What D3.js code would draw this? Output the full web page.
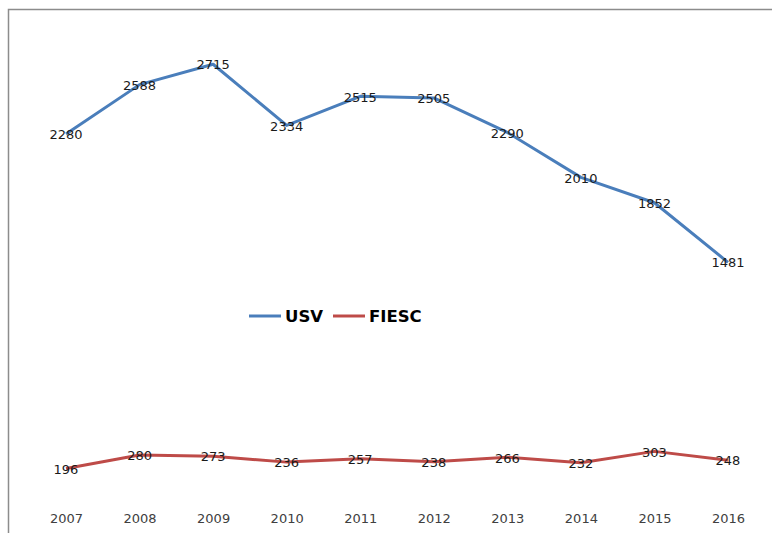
<!DOCTYPE html>
<html>
<head>
<meta charset="utf-8">
<script src="https://cdnjs.cloudflare.com/ajax/libs/d3/7.8.5/d3.min.js"></script>
<style>
  body { margin: 0; background: #fff; }
</style>
</head>
<body>
<svg id="chart" width="772" height="533"></svg>
<script>
var years = ["2007", "2008", "2009", "2010", "2011", "2012", "2013", "2014", "2015", "2016"];
var usv = [2280, 2588, 2715, 2334, 2515, 2505, 2290, 2010, 1852, 1481];
var fiesc = [196, 280, 273, 236, 257, 238, 266, 232, 303, 248];

var seriesNames = ["USV", "FIESC"];
var seriesColors = ["#4a7ebb", "#be4b48"];

var svg = d3.select("#chart");

// chart frame, runs off the right and bottom edge like the original
svg.append("rect")
    .attr("x", 8.5)
    .attr("y", 9.5)
    .attr("width", 800)
    .attr("height", 600)
    .attr("fill", "none")
    .attr("stroke", "#8c8c8c")
    .attr("stroke-width", 1.5);

var x = d3.scalePoint()
    .domain(years)
    .range([66, 728]);

var y = d3.scaleLinear()
    .domain([0, 3000])
    .range([500, 18.5]);

var xAxis = svg.append("g")
    .attr("transform", "translate(0,518)")
    .call(d3.axisBottom(x).tickSize(0).tickPadding(0));
xAxis.select(".domain").remove();
xAxis.selectAll("text")
    .attr("dy", "0.35em")
    .attr("fill", "#404040")
    .style("font-family", "DejaVu Sans")
    .style("font-size", "13px");

var line = d3.line()
    .x(function(d, i) { return x(years[i]); })
    .y(function(d) { return y(d); });

[usv, fiesc].forEach(function(values, s) {
    svg.append("path")
        .datum(values)
        .attr("d", line)
        .attr("fill", "none")
        .attr("stroke", seriesColors[s])
        .attr("stroke-width", 3)
        .attr("stroke-linejoin", "round");

    svg.append("g").selectAll("text")
        .data(values)
        .enter().append("text")
        .attr("x", function(d, i) { return x(years[i]); })
        .attr("y", function(d) { return y(d); })
        .attr("dy", "0.4em")
        .attr("text-anchor", "middle")
        .attr("fill", "#1a1a1a")
        .style("font-family", "DejaVu Sans")
        .style("font-size", "13px")
        .text(function(d) { return d; });
});

// legend
var legendX = [249, 333];
var legend = svg.append("g");
seriesNames.forEach(function(name, s) {
    legend.append("line")
        .attr("x1", legendX[s])
        .attr("x2", legendX[s] + 32)
        .attr("y1", 316)
        .attr("y2", 316)
        .attr("stroke", seriesColors[s])
        .attr("stroke-width", 3);
    legend.append("text")
        .attr("x", legendX[s] + 36)
        .attr("y", 316)
        .attr("dy", "0.36em")
        .attr("fill", "#000")
        .style("font-family", "DejaVu Sans")
        .style("font-weight", "bold")
        .style("font-size", "16.5px")
        .text(name);
});
</script>
</body>
</html>
